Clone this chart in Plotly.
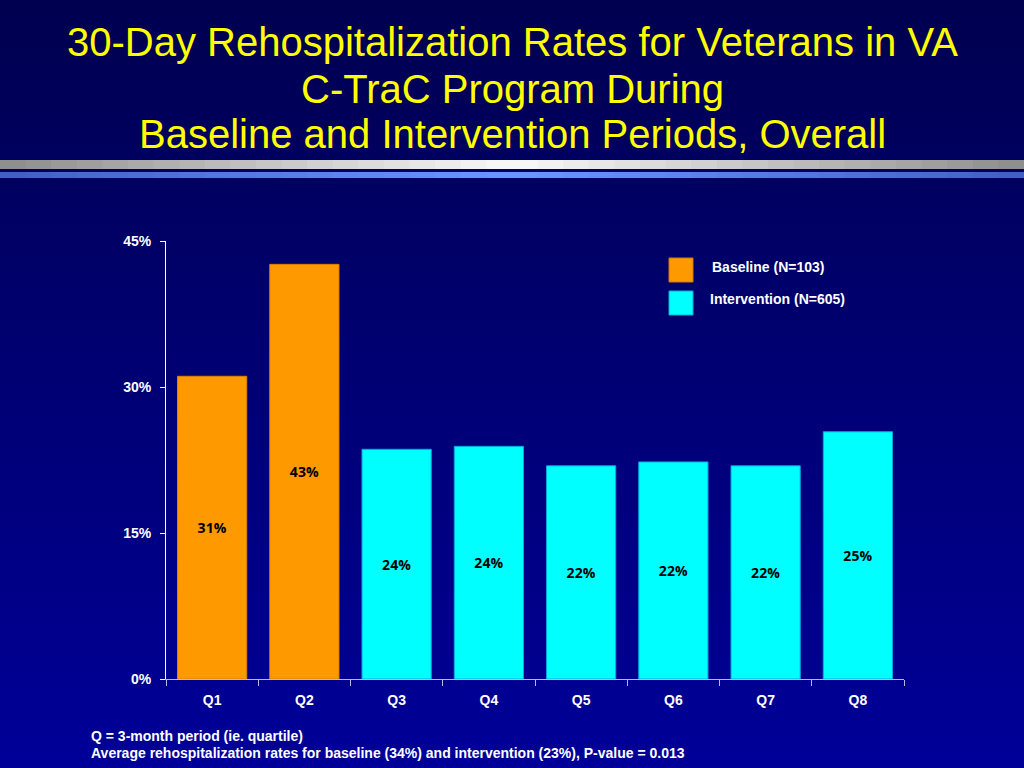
import plotly.graph_objects as go

# data
baseline_q = ["Q1", "Q2"]
baseline_rate = [31.1, 42.6]
baseline_lbl = ["31%", "43%"]

interv_q = ["Q3", "Q4", "Q5", "Q6", "Q7", "Q8"]
interv_rate = [23.6, 23.9, 21.9, 22.3, 21.9, 25.4]
interv_lbl = ["24%", "24%", "22%", "22%", "22%", "25%"]

y_ticks = [0, 15, 30, 45]
y_tick_text = ["0%", "15%", "30%", "45%"]

W, H = 1024, 768
L, R, T, B = 166, 120, 241, 89
pw, ph = W - L - R, H - T - B


def px(x):
    return (x - L) / pw


def py(y):
    return (H - B - y) / ph


shapes = []

# vertical background gradient
n = 48
for i in range(n):
    f = i / (n - 1)
    c = "rgb(0,0,%d)" % round(80 + f * 72)
    shapes.append(dict(type="rect", xref="paper", yref="paper", layer="below",
                       x0=px(0), x1=px(W), y0=py(i * H / n), y1=py((i + 1) * H / n + 1),
                       fillcolor=c, line=dict(width=0)))

# title stripes (horizontal gradients)
m = 40
for i in range(m):
    f = 1 - abs((i + 0.5) / m - 0.5) * 2
    g = round(140 + f * 110)
    shapes.append(dict(type="rect", xref="paper", yref="paper",
                       x0=px(i * W / m), x1=px((i + 1) * W / m + 1), y0=py(169), y1=py(160),
                       fillcolor="rgb(%d,%d,%d)" % (g, g, g), line=dict(width=0)))
    shapes.append(dict(type="rect", xref="paper", yref="paper",
                       x0=px(i * W / m), x1=px((i + 1) * W / m + 1), y0=py(178), y1=py(172),
                       fillcolor="rgb(%d,%d,%d)" % (round(64 + f * 40), round(96 + f * 56), round(192 + f * 63)),
                       line=dict(width=0)))

# legend squares
shapes.append(dict(type="rect", xref="paper", yref="paper", x0=px(669), x1=px(693),
                   y0=py(282), y1=py(258), fillcolor="#FF9900", line=dict(color="#cc7a00", width=1)))
shapes.append(dict(type="rect", xref="paper", yref="paper", x0=px(669), x1=px(693),
                   y0=py(315), y1=py(291), fillcolor="#00FFFF", line=dict(color="#00b0d0", width=1)))

fig = go.Figure()
fig.add_trace(go.Bar(x=baseline_q, y=baseline_rate, text=baseline_lbl,
                     marker=dict(color="#FF9900", line=dict(color="#d98200", width=1))))
fig.add_trace(go.Bar(x=interv_q, y=interv_rate, text=interv_lbl,
                     marker=dict(color="#00FFFF", line=dict(color="#00a8e0", width=1))))
fig.update_traces(textposition="inside", insidetextanchor="middle", textangle=0,
                  constraintext="none",
                  textfont=dict(family="Open Sans", size=14, color="black", weight="bold"))

title_lines = ["30-Day Rehospitalization Rates for Veterans in VA",
               "C-TraC Program During",
               "Baseline and Intervention Periods, Overall"]
title_y = [42, 89, 134]

ann = []
for t, y in zip(title_lines, title_y):
    ann.append(dict(text=t, xref="paper", yref="paper", x=px(512), y=py(y),
                    xanchor="center", yanchor="middle", showarrow=False,
                    font=dict(family="Liberation Sans, Arial", size=40, color="#FFFF00")))

ann.append(dict(text="<b>Baseline (N=103)</b>", xref="paper", yref="paper", x=px(710), y=py(267),
                xanchor="left", yanchor="middle", showarrow=False,
                font=dict(family="Liberation Sans, Arial", size=14, color="white")))
ann.append(dict(text="<b>Intervention (N=605)</b>", xref="paper", yref="paper", x=px(708), y=py(299),
                xanchor="left", yanchor="middle", showarrow=False,
                font=dict(family="Liberation Sans, Arial", size=14, color="white")))

notes = ["Q = 3-month period (ie. quartile)",
         "Average rehospitalization rates for baseline (34%) and intervention (23%), P-value = 0.013"]
for t, y in zip(notes, [736, 753]):
    ann.append(dict(text="<b>%s</b>" % t, xref="paper", yref="paper", x=px(89), y=py(y),
                    xanchor="left", yanchor="middle", showarrow=False,
                    font=dict(family="Liberation Sans, Arial", size=14, color="white")))

fig.update_layout(
    width=W, height=H,
    margin=dict(l=L, r=R, t=T, b=B, pad=0),
    paper_bgcolor="#000070", plot_bgcolor="rgba(0,0,0,0)",
    barmode="overlay", bargap=0.25, showlegend=False,
    shapes=shapes, annotations=ann,
    xaxis=dict(categoryorder="array", categoryarray=baseline_q + interv_q,
               range=[-0.5, 7.5], showline=True, linecolor="#b8b8e8", linewidth=1,
               ticks="outside", ticklen=6, tickcolor="#b8b8e8", tickson="boundaries",
               showgrid=False, zeroline=False, ticklabelstandoff=8,
               tickfont=dict(family="Liberation Sans, Arial", size=14, color="white", weight="bold")),
    yaxis=dict(range=[0, 45], tickvals=y_ticks, ticktext=y_tick_text, showline=True,
               linecolor="white", linewidth=1, ticks="outside", ticklen=5, tickcolor="white",
               showgrid=False, zeroline=False, ticklabelstandoff=6,
               tickfont=dict(family="Liberation Sans, Arial", size=14, color="white", weight="bold")),
)

fig.write_html("out.html", config={"displayModeBar": False},
               post_script="document.body.style.margin='0';")
